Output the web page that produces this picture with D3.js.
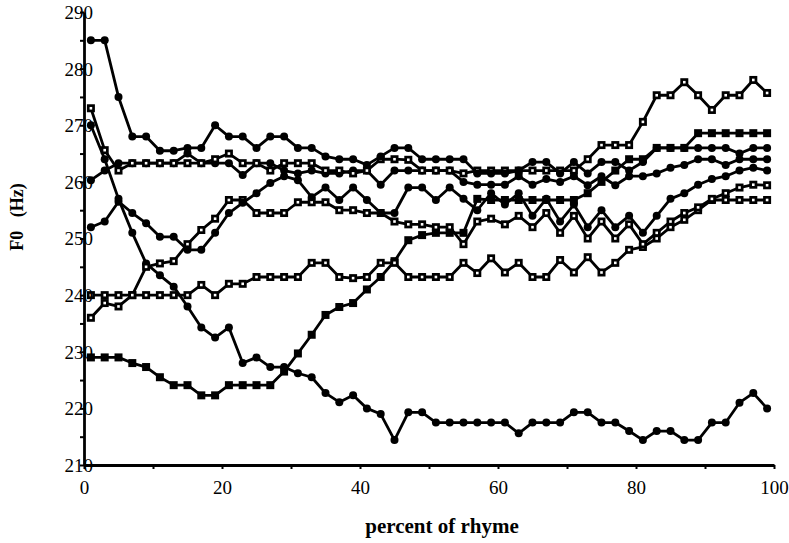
<!DOCTYPE html>
<html>
<head>
<meta charset="utf-8">
<script src="https://cdn.jsdelivr.net/npm/d3@7"></script>
<style>
  body { margin: 0; background: #fff; }
  text { font-family: "Liberation Serif", "Times New Roman", serif; fill: #000; }
</style>
</head>
<body>
<div id="chart"></div>
<script>
// Sample positions (percent of rhyme)
const pct = [1, 3, 5, 7, 9, 11, 13, 15, 17, 19, 21, 23, 25, 27, 29, 31, 33, 35, 37, 39,
             41, 43, 45, 47, 49, 51, 53, 55, 57, 59, 61, 63, 65, 67, 69, 71, 73, 75, 77, 79,
             81, 83, 85, 87, 89, 91, 93, 95, 97, 99];

// F0 contours (Hz)
const highFall = [285, 285, 275, 268, 268, 265.5, 265.5, 266, 266, 270, 268, 268, 266, 268, 268, 266, 266, 264.5, 264, 264,
                  263, 264.5, 266, 266, 264, 264, 264, 264, 261.5, 261.5, 261.5, 262, 263.5, 263.5, 261.5, 263.5, 261.5, 263.5, 263.5, 262,
                  263.5, 266, 266, 266, 266, 266, 266, 265, 266, 266];
const lowFall = [270, 264, 257, 251, 245.6, 243.5, 241.5, 238, 234.3, 232.5, 234.3, 228, 229, 227.3, 227.3, 226.2, 225.5, 222.7, 221.1, 222.3,
                 220, 219, 214.4, 219.3, 219.3, 217.5, 217.5, 217.5, 217.5, 217.5, 217.5, 215.6, 217.5, 217.5, 217.5, 219.3, 219.3, 217.5, 217.5, 216,
                 214.4, 216, 216, 214.4, 214.4, 217.5, 217.5, 221, 222.7, 220];
const topRise = [273, 265.6, 262, 263.3, 263.3, 263.3, 263.3, 263.3, 263.3, 264, 265, 263.3, 263.3, 262, 263.3, 263.3, 263.3, 262, 262, 261.5,
                 262, 264, 264, 263.9, 262, 262, 262, 261.5, 262, 262, 262, 262, 262, 262, 262, 262, 264, 266.5, 266.5, 266.5,
                 270.6, 275.3, 275.3, 277.6, 275.3, 272.7, 275.3, 275.3, 278, 275.7];
const midLevel = [260.3, 262, 263.3, 263.3, 263.3, 263.3, 263.3, 265, 263.3, 263.3, 263.3, 261.2, 263.3, 263.3, 262, 261.5, 262, 261.5, 261.5, 262,
                  262, 259.5, 262, 262, 262, 262, 262, 260, 259.5, 259.5, 259.5, 261, 259.5, 260.5, 260, 261, 259.4, 261, 259.4, 261,
                  261, 261.5, 262.5, 263, 264, 264, 263, 264, 264, 264];
const dipRise = [252, 253, 256.5, 254.5, 252.7, 250.3, 250.3, 248, 248, 251, 254.5, 256.3, 258, 259.8, 261, 260.3, 257.3, 259, 256.8, 259,
                 256.8, 254.5, 254.5, 259, 259, 256.8, 259, 257, 255, 258, 256, 258, 254, 257, 253, 256, 252, 255, 252, 254,
                 251, 254, 257, 258, 259.5, 260.5, 261, 262, 262.5, 262];
const flatRise = [240, 240, 240, 240, 240, 240, 240, 240, 241.8, 240, 242, 242, 243.2, 243.2, 243.2, 243.2, 245.7, 245.7, 243.2, 243,
                  243.2, 245.7, 245.7, 243.2, 243.2, 243.2, 243.2, 245.7, 243.9, 246.5, 244, 245.7, 243.2, 243.2, 246.2, 244, 246.7, 244, 245.7, 248,
                  248.5, 250, 252, 253.3, 255, 256.8, 256.8, 256.8, 256.8, 256.8];
const earlyRise = [236, 238.6, 238, 240, 245, 245.6, 246, 249, 251.5, 253.5, 256.8, 256.8, 254.5, 254.5, 254.5, 256.4, 256.4, 256.4, 255, 255,
                   254.5, 254.5, 253, 252.5, 252.5, 252, 252, 249, 253, 253.5, 252.5, 254, 252, 254.5, 251, 254, 250, 253, 250, 252.5,
                   249, 251, 253, 254.5, 255.5, 257, 258, 259, 259.5, 259.4];
const lateRise = [229, 229, 229, 228, 227.3, 225.5, 224.1, 224.1, 222.3, 222.3, 224.1, 224.1, 224.1, 224.1, 226.5, 229.7, 233, 236.5, 237.9, 238.6,
                  241, 243.2, 246, 249.7, 250.6, 251, 251, 251, 257, 256.8, 256.8, 256.8, 256.8, 256.8, 256.8, 256.8, 258, 260, 262, 264,
                  264, 266, 266, 266, 268.6, 268.6, 268.6, 268.6, 268.6, 268.6];

// Axis ticks
const yTicks = [210, 215, 220, 225, 230, 235, 240, 245, 250, 255, 260, 265, 270, 275, 280, 285, 290];
const yLabels = [210, 220, 230, 240, 250, 260, 270, 280, 290];
const xTicks = [0, 10, 20, 30, 40, 50, 60, 70, 80, 90, 100];
const xLabels = [0, 20, 40, 60, 80, 100];

const series = [
    { values: lowFall, marker: "circle" },
    { values: lateRise, marker: "filled" },
    { values: flatRise, marker: "square" },
    { values: earlyRise, marker: "square" },
    { values: dipRise, marker: "circle" },
    { values: midLevel, marker: "circle" },
    { values: topRise, marker: "square" },
    { values: highFall, marker: "circle" }
];

const width = 789;
const height = 543;

const svg = d3.select("#chart")
    .append("svg")
    .attr("width", width)
    .attr("height", height);

const xScale = d3.scaleLinear()
    .domain([0, 100])
    .range([84, 774]);

const yScale = d3.scaleLinear()
    .domain([210, 290])
    .range([465, 12]);

// Lines
const line = d3.line()
    .x((d, i) => xScale(pct[i]))
    .y(d => yScale(d));

svg.selectAll(".contour")
    .data(series)
    .enter()
    .append("path")
    .attr("class", "contour")
    .attr("d", d => line(d.values))
    .attr("fill", "none")
    .attr("stroke", "#000")
    .attr("stroke-width", 2.8)
    .attr("stroke-linejoin", "round");

// Markers
series.forEach(s => {
    const g = svg.append("g");
    const pts = s.values.map((v, i) => [xScale(pct[i]), yScale(v)]);
    if (s.marker === "circle") {
        g.selectAll("circle")
            .data(pts)
            .enter().append("circle")
            .attr("cx", d => d[0])
            .attr("cy", d => d[1])
            .attr("r", 4)
            .attr("fill", "#000");
    } else {
        g.selectAll("rect")
            .data(pts)
            .enter().append("rect")
            .attr("x", d => d[0] - 4)
            .attr("y", d => d[1] - 4)
            .attr("width", 8)
            .attr("height", 8)
            .attr("fill", "#000");
        if (s.marker === "square") {
            g.selectAll("rect.hole")
                .data(pts)
                .enter().append("rect")
                .attr("class", "hole")
                .attr("x", d => d[0] - 1.3)
                .attr("y", d => d[1] - 1.3)
                .attr("width", 2.6)
                .attr("height", 2.6)
                .attr("fill", "#fff");
        }
    }
});

// Y axis
const yAxis = d3.axisLeft(yScale)
    .tickValues(yTicks)
    .tickFormat(d => yLabels.includes(d) ? d : "")
    .tickSize(4)
    .tickSizeOuter(0)
    .tickPadding(-13);
const yG = svg.append("g")
    .attr("transform", "translate(84,0)")
    .call(yAxis);
yG.selectAll("text")
    .style("font-size", "19px")
    .style("font-family", "'Liberation Serif', serif")
    .attr("dy", "0.34em");

// X axis
const xAxis = d3.axisBottom(xScale)
    .tickValues(xTicks)
    .tickFormat(d => xLabels.includes(d) ? d : "")
    .tickSize(4)
    .tickSizeOuter(0)
    .tickPadding(12);
const xG = svg.append("g")
    .attr("transform", "translate(0,465)")
    .call(xAxis);
xG.selectAll("text")
    .style("font-size", "19px")
    .style("font-family", "'Liberation Serif', serif");

[yG, xG].forEach(g => {
    g.select(".domain").attr("stroke-width", 2.8);
    g.selectAll(".tick line").attr("stroke-width", 2);
});

// Axis titles
svg.append("text")
    .attr("x", 442)
    .attr("y", 533)
    .style("text-anchor", "middle")
    .style("font-weight", "bold")
    .style("font-size", "21px")
    .text("percent of rhyme");

svg.append("text")
    .attr("transform", "translate(23,217) rotate(-90)")
    .style("text-anchor", "middle")
    .style("font-weight", "bold")
    .style("font-size", "18px")
    .style("white-space", "pre")
    .text("F0   (Hz)");
</script>
</body>
</html>
